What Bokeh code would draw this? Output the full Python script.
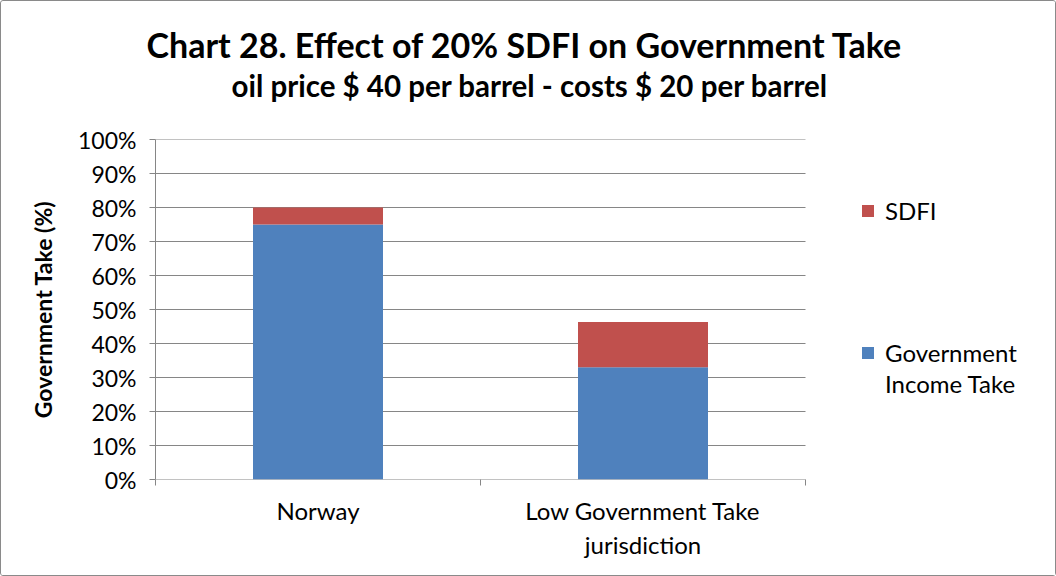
from bokeh.plotting import figure
from bokeh.models import (FixedTicker, NumeralTickFormatter, Title, Legend,
                          LegendItem, Range1d, ColumnDataSource)
from bokeh.embed import file_html
from bokeh.resources import INLINE

# ---- data ----
categories = ["Norway", "Low Government Take\njurisdiction"]
income_take = [0.75, 0.33]
sdfi = [0.05, 0.133]
series_labels = ["Government\nIncome Take", "SDFI"]
y_ticks = [0.0, 0.1, 0.2, 0.3, 0.4, 0.5, 0.6, 0.7, 0.8, 0.9, 1.0]
title_text = "Chart 28. Effect of 20% SDFI on Government Take"
subtitle_text = "oil price $ 40 per barrel - costs $ 20 per barrel"
y_label = "Government Take (%)"

BLUE = "#4F81BD"
RED = "#C0504D"
GRID = "#868686"
FONT = "Lato"

# plotting area: 650px for the categories, extended to the right to host the legend
CAT_W = 650
FRAME_W = 890
x_end = len(categories) * FRAME_W / CAT_W

xpos = [i + 0.5 for i in range(len(categories))]
src = ColumnDataSource(dict(x=xpos, income=income_take, sdfi=sdfi))

p = figure(frame_width=FRAME_W, frame_height=340,
           min_border_left=154, min_border_right=10,
           min_border_top=138, min_border_bottom=96,
           x_range=Range1d(0, x_end), y_range=Range1d(0, 1),
           output_backend="svg", toolbar_location=None)
p.outline_line_color = None
p.xgrid.visible = False
p.ygrid.visible = False

# horizontal gridlines only across the category area
p.segment(x0=[0] * len(y_ticks), x1=[len(categories)] * len(y_ticks),
          y0=y_ticks, y1=y_ticks, line_color=GRID, line_width=1, level="underlay")

rs = p.vbar_stack(["income", "sdfi"], x="x", width=0.4, color=[BLUE, RED],
                  line_color=None, source=src)

# x axis: labels at category centres, tick marks at category boundaries
p.xaxis.ticker = FixedTicker(ticks=xpos,
                             minor_ticks=list(range(len(categories) + 1)))
p.xaxis.major_label_overrides = {xpos[i]: categories[i] for i in range(len(categories))}
p.xaxis.major_tick_line_color = None
p.xaxis.minor_tick_in = 0
p.xaxis.minor_tick_out = 6
p.xaxis.minor_tick_line_color = GRID
p.xaxis.axis_line_color = None
p.xaxis.major_label_text_font = FONT
p.xaxis.major_label_text_font_size = "24px"
p.xaxis.major_label_text_color = "#000000"
p.xaxis.major_label_standoff = 10

# y axis
p.yaxis.ticker = FixedTicker(ticks=y_ticks)
p.yaxis.formatter = NumeralTickFormatter(format="0%")
p.yaxis.major_tick_in = 0
p.yaxis.major_tick_out = 6
p.yaxis.major_tick_line_color = GRID
p.yaxis.minor_tick_line_color = None
p.yaxis.axis_line_color = GRID
p.yaxis.major_label_text_font = FONT
p.yaxis.major_label_text_font_size = "23px"
p.yaxis.major_label_text_color = "#000000"
p.yaxis.major_label_standoff = 13
p.yaxis.axis_label = y_label
p.yaxis.axis_label_text_font = FONT
p.yaxis.axis_label_text_font_size = "23px"
p.yaxis.axis_label_text_font_style = "bold"
p.yaxis.axis_label_text_color = "#000000"
p.yaxis.axis_label_standoff = 18

# titles
p.title.text = title_text
p.title.align = "left"
p.title.offset = -9
p.title.text_font = FONT
p.title.text_font_size = "34px"
p.title.text_font_style = "bold"
p.title.text_color = "#000000"
p.title.standoff = -72
p.add_layout(Title(text=subtitle_text, align="left", offset=76,
                   text_font=FONT, text_font_size="29.5px", text_font_style="bold",
                   text_color="#000000", standoff=74), "above")

# legends: the "Income Take" second line is carried by an invisible helper item
ghost = p.vbar(x="x", top="income", width=0.4, fill_alpha=0, line_alpha=0, source=src)
leg_style = dict(orientation="vertical", glyph_width=15, glyph_height=15,
                 label_standoff=10, padding=0, margin=0,
                 border_line_color=None, background_fill_alpha=0,
                 label_text_font=FONT, label_text_font_size="24px",
                 label_text_color="#000000")
gov_first, gov_second = series_labels[0].split("\n")
legend1 = Legend(items=[LegendItem(label=series_labels[1], renderers=[rs[1]])],
                 location=(705, 254), spacing=0, **leg_style)
legend2 = Legend(items=[LegendItem(label=gov_first, renderers=[rs[0]]),
                        LegendItem(label=gov_second, renderers=[ghost])],
                 location=(705, 81), spacing=2, **leg_style)
p.add_layout(legend1, "center")
p.add_layout(legend2, "center")

p.styles = {"border": "1px solid #8a8a8a", "border-radius": "3px"}

open("out.html", "w").write(file_html(p, INLINE))
